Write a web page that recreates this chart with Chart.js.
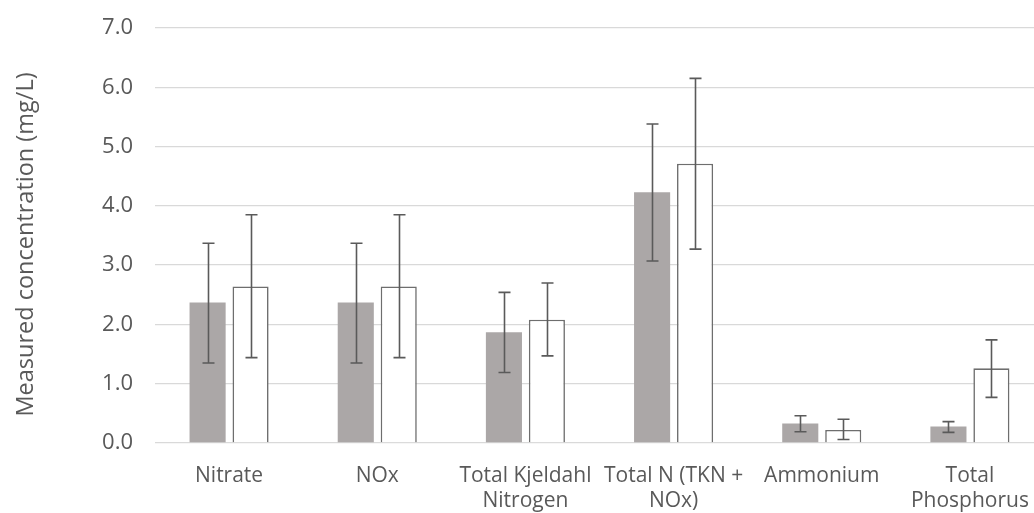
<!DOCTYPE html>
<html>
<head>
<meta charset="utf-8">
<script src="https://cdn.jsdelivr.net/npm/chart.js@4/dist/chart.umd.min.js"></script>
<style>
html,body{margin:0;padding:0;background:#fff;overflow:hidden;}
#wrap{position:relative;width:1044px;height:513px;}
</style>
</head>
<body>
<div id="wrap"><canvas id="c"></canvas></div>
<script>
const categories = [
  ["Nitrate"],
  ["NOx"],
  ["Total Kjeldahl", "Nitrogen"],
  ["Total N (TKN +", "NOx)"],
  ["Ammonium"],
  ["Total", "Phosphorus"]
];
const greyValues = [2.37, 2.37, 1.87, 4.23, 0.33, 0.28];
const greyLow    = [1.35, 1.35, 1.19, 3.07, 0.19, 0.18];
const greyHigh   = [3.37, 3.37, 2.54, 5.38, 0.46, 0.36];
const whiteValues = [2.64, 2.64, 2.08, 4.71, 0.22, 1.26];
const whiteLow    = [1.44, 1.44, 1.47, 3.27, 0.06, 0.77];
const whiteHigh   = [3.85, 3.85, 2.70, 6.15, 0.40, 1.74];
const yTicks = [0, 1, 2, 3, 4, 5, 6, 7];
const yTitle = 'Measured concentration (mg/L)';

const errorBars = [
  {low: greyLow, high: greyHigh},
  {low: whiteLow, high: whiteHigh}
];

const FONT = "'Open Sans', sans-serif";

const errorBarPlugin = {
  id: 'errorBars',
  afterDatasetsDraw(chart) {
    const ctx = chart.ctx;
    const ys = chart.scales.y;
    ctx.save();
    ctx.strokeStyle = '#5a5a5a';
    ctx.lineWidth = 1.6;
    errorBars.forEach((eb, di) => {
      const meta = chart.getDatasetMeta(di);
      meta.data.forEach((el, j) => {
        const x = Math.round(el.x) + 0.5;
        const yl = ys.getPixelForValue(eb.low[j]);
        const yh = ys.getPixelForValue(eb.high[j]);
        const cap = 6;
        ctx.beginPath();
        ctx.moveTo(x, yl); ctx.lineTo(x, yh);
        ctx.moveTo(x - cap, yl); ctx.lineTo(x + cap, yl);
        ctx.moveTo(x - cap, yh); ctx.lineTo(x + cap, yh);
        ctx.stroke();
      });
    });
    ctx.restore();
  }
};

const yTitlePlugin = {
  id: 'yTitle',
  afterDraw(chart) {
    const ctx = chart.ctx;
    const ca = chart.chartArea;
    ctx.save();
    ctx.translate(26, (ca.top + ca.bottom) / 2 + 9);
    ctx.rotate(-Math.PI / 2);
    ctx.fillStyle = '#595959';
    ctx.font = "23.5px " + FONT;
    ctx.textAlign = 'center';
    ctx.textBaseline = 'middle';
    ctx.fillText(yTitle, 0, 0);
    ctx.restore();
  }
};

new Chart(document.getElementById('c'), {
  type: 'bar',
  data: {
    labels: categories,
    datasets: [
      {
        data: greyValues,
        backgroundColor: '#aba7a7',
        borderWidth: 0,
        barPercentage: 0.84,
        categoryPercentage: 0.58
      },
      {
        data: whiteValues,
        backgroundColor: '#ffffff',
        borderColor: '#6e6e6e',
        borderWidth: 1.6,
        barPercentage: 0.84,
        categoryPercentage: 0.58
      }
    ]
  },
  options: {
    responsive: true,
    maintainAspectRatio: false,
    animation: false,
    layout: {padding: {top: 28, right: 0, left: 10, bottom: 0}},
    plugins: {
      legend: {display: false},
      tooltip: {enabled: false}
    },
    scales: {
      x: {
        grid: {display: false},
        border: {display: false},
        afterFit(scale) { scale.height = 70; scale.paddingLeft = 0; scale.paddingRight = 0; },
        ticks: {
          color: '#595959',
          font: {family: FONT, size: 21, lineHeight: 1.2},
          maxRotation: 0,
          autoSkip: false,
          padding: 12
        }
      },
      y: {
        min: 0,
        max: 7,
        afterBuildTicks(scale) { scale.ticks = yTicks.map(v => ({value: v})); },
        afterFit(scale) { scale.width = 145; scale.paddingTop = 0; scale.paddingBottom = 0; },
        grid: {color: '#d9d9d9', lineWidth: 1.3, drawTicks: false},
        border: {display: false},
        ticks: {
          color: '#595959',
          font: {family: FONT, size: 22},
          padding: 22,
          callback: v => Number(v).toFixed(1)
        }
      }
    }
  },
  plugins: [errorBarPlugin, yTitlePlugin]
});
</script>
</body>
</html>
